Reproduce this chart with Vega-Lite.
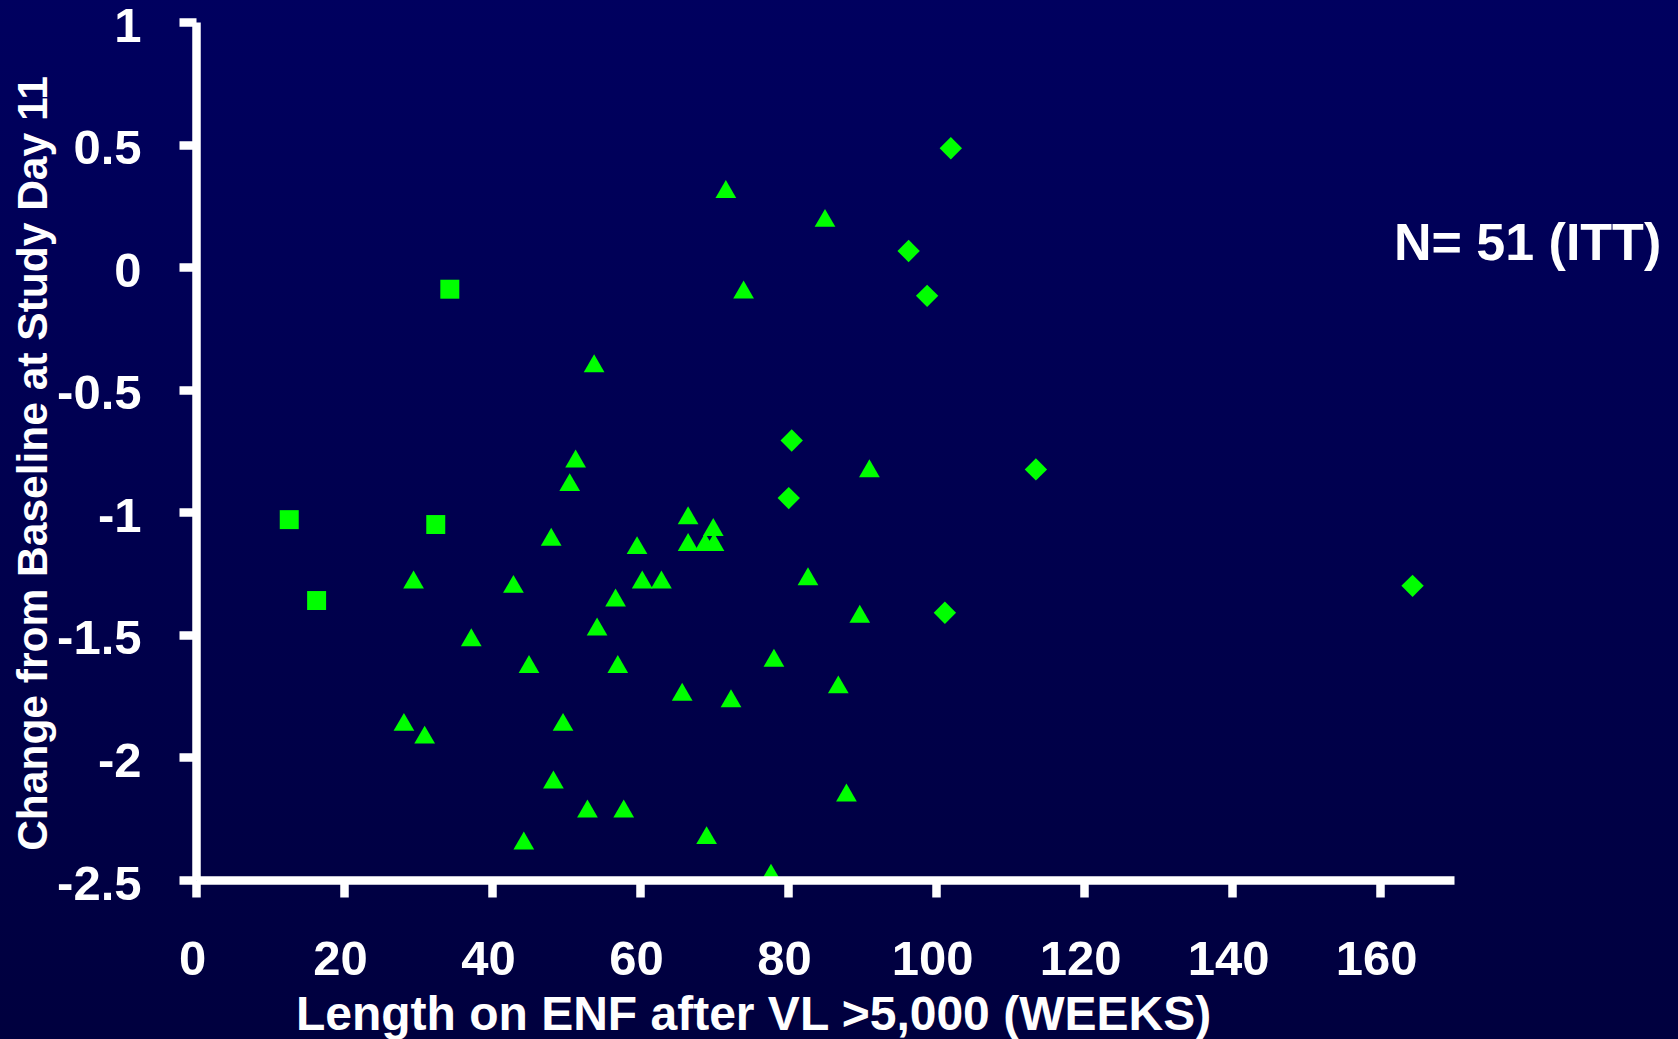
{
  "$schema": "https://vega.github.io/schema/vega-lite/v6.json",
  "width": 1258,
  "height": 858,
  "autosize": {"type": "none"},
  "padding": {"left": 196, "top": 22, "right": 224, "bottom": 159},
  "background": "#00004E",
  "config": {
    "view": {"stroke": null},
    "font": "Liberation Sans",
    "axis": {
      "domainColor": "white",
      "domainWidth": 8.5,
      "tickColor": "white",
      "tickWidth": 8.5,
      "tickSize": 17,
      "grid": false,
      "labelColor": "white",
      "labelFont": "Liberation Sans",
      "labelFontWeight": "bold",
      "labelFontSize": 49,
      "titleColor": "white",
      "titleFont": "Liberation Sans",
      "titleFontWeight": "bold"
    }
  },
  "data": {
    "values": [
      {"weeks": 12.6, "change": -1.03, "group": "A"},
      {"weeks": 16.3, "change": -1.36, "group": "A"},
      {"weeks": 32.4, "change": -1.05, "group": "A"},
      {"weeks": 34.3, "change": -0.09, "group": "A"},
      {"weeks": 102.0, "change": 0.485, "group": "C"},
      {"weeks": 96.3, "change": 0.066, "group": "C"},
      {"weeks": 98.8, "change": -0.117, "group": "C"},
      {"weeks": 80.5, "change": -0.707, "group": "C"},
      {"weeks": 80.1, "change": -0.942, "group": "C"},
      {"weeks": 113.5, "change": -0.825, "group": "C"},
      {"weeks": 101.2, "change": -1.41, "group": "C"},
      {"weeks": 164.4, "change": -1.30, "group": "C"},
      {"weeks": 71.6, "change": 0.319, "group": "B"},
      {"weeks": 85.0, "change": 0.201, "group": "B"},
      {"weeks": 74.0, "change": -0.091, "group": "B"},
      {"weeks": 53.8, "change": -0.392, "group": "B"},
      {"weeks": 51.3, "change": -0.781, "group": "B"},
      {"weeks": 50.5, "change": -0.877, "group": "B"},
      {"weeks": 91.0, "change": -0.820, "group": "B"},
      {"weeks": 48.0, "change": -1.10, "group": "B"},
      {"weeks": 66.5, "change": -1.012, "group": "B"},
      {"weeks": 69.9, "change": -1.060, "group": "B"},
      {"weeks": 66.5, "change": -1.121, "group": "B"},
      {"weeks": 68.8, "change": -1.121, "group": "B"},
      {"weeks": 70.0, "change": -1.121, "group": "B"},
      {"weeks": 59.6, "change": -1.134, "group": "B"},
      {"weeks": 29.4, "change": -1.274, "group": "B"},
      {"weeks": 42.9, "change": -1.292, "group": "B"},
      {"weeks": 60.3, "change": -1.274, "group": "B"},
      {"weeks": 62.9, "change": -1.274, "group": "B"},
      {"weeks": 82.7, "change": -1.261, "group": "B"},
      {"weeks": 56.7, "change": -1.348, "group": "B"},
      {"weeks": 54.2, "change": -1.466, "group": "B"},
      {"weeks": 89.7, "change": -1.414, "group": "B"},
      {"weeks": 37.2, "change": -1.510, "group": "B"},
      {"weeks": 45.0, "change": -1.619, "group": "B"},
      {"weeks": 57.0, "change": -1.619, "group": "B"},
      {"weeks": 78.1, "change": -1.593, "group": "B"},
      {"weeks": 86.8, "change": -1.702, "group": "B"},
      {"weeks": 65.7, "change": -1.732, "group": "B"},
      {"weeks": 72.3, "change": -1.759, "group": "B"},
      {"weeks": 28.1, "change": -1.855, "group": "B"},
      {"weeks": 49.6, "change": -1.855, "group": "B"},
      {"weeks": 30.9, "change": -1.907, "group": "B"},
      {"weeks": 48.3, "change": -2.090, "group": "B"},
      {"weeks": 87.9, "change": -2.143, "group": "B"},
      {"weeks": 52.9, "change": -2.208, "group": "B"},
      {"weeks": 57.8, "change": -2.208, "group": "B"},
      {"weeks": 44.3, "change": -2.339, "group": "B"},
      {"weeks": 69.0, "change": -2.317, "group": "B"},
      {"weeks": 77.7, "change": -2.470, "group": "B"}
    ]
  },
  "layer": [
    {
      "mark": {
        "type": "rect",
        "clip": false,
        "color": {
          "gradient": "linear",
          "x1": 0, "y1": 0, "x2": 0, "y2": 1,
          "stops": [
            {"offset": 0, "color": "#00005F"},
            {"offset": 1, "color": "#00003E"}
          ]
        }
      },
      "encoding": {
        "x": {"datum": -27, "type": "quantitative", "axis": {"zindex": 1}},
        "x2": {"datum": 205},
        "y": {"datum": 1.1, "type": "quantitative", "axis": {"zindex": 1}},
        "y2": {"datum": -3.2}
      }
    },
    {
      "mark": {"type": "point", "filled": true, "opacity": 1, "color": "#00FF00", "clip": false},
      "encoding": {
        "x": {
          "field": "weeks", "type": "quantitative",
          "scale": {"domain": [0, 170], "nice": false, "zero": false},
          "axis": {
            "zindex": 1,
            "values": [0, 20, 40, 60, 80, 100, 120, 140, 160],
            "labelPadding": 38,
            "labelOffset": -4,
            "labelFlush": false,
            "title": "Length on ENF after VL >5,000 (WEEKS)",
            "titleFontSize": 48,
            "titleX": 557,
            "titleY": 149,
            "titleAlign": "center",
            "titleAnchor": null,
            "titleBaseline": "alphabetic"
          }
        },
        "y": {
          "field": "change", "type": "quantitative",
          "scale": {"domain": [-2.5, 1], "nice": false, "zero": false},
          "axis": {
            "zindex": 1,
            "values": [-2.5, -2, -1.5, -1, -0.5, 0, 0.5, 1],
            "labelExpr": "'' + datum.value",
            "labelPadding": 38,
            "labelOffset": 4,
            "labelFlush": false,
            "title": "Change from Baseline at Study Day 11",
            "titleFontSize": 42.5,
            "titleX": -150,
            "titleY": 441,
            "titleAngle": 270,
            "titleAlign": "center",
            "titleAnchor": null,
            "titleBaseline": "alphabetic"
          }
        },
        "shape": {
          "field": "group", "type": "nominal",
          "scale": {"domain": ["A", "B", "C"], "range": ["square", "triangle-up", "diamond"]},
          "legend": null
        },
        "size": {
          "field": "group", "type": "ordinal",
          "scale": {"domain": ["A", "B", "C"], "range": [360, 500, 470]},
          "legend": null
        }
      }
    },
    {
      "data": {"values": [{"label": "N= 51 (ITT)", "xpos": 198, "ypos": 0.03}]},
      "mark": {"type": "text", "align": "right", "baseline": "alphabetic", "color": "white", "font": "Liberation Sans", "fontWeight": "bold", "fontSize": 52},
      "encoding": {
        "x": {"field": "xpos", "type": "quantitative"},
        "y": {"field": "ypos", "type": "quantitative"},
        "text": {"field": "label"}
      }
    }
  ]
}
